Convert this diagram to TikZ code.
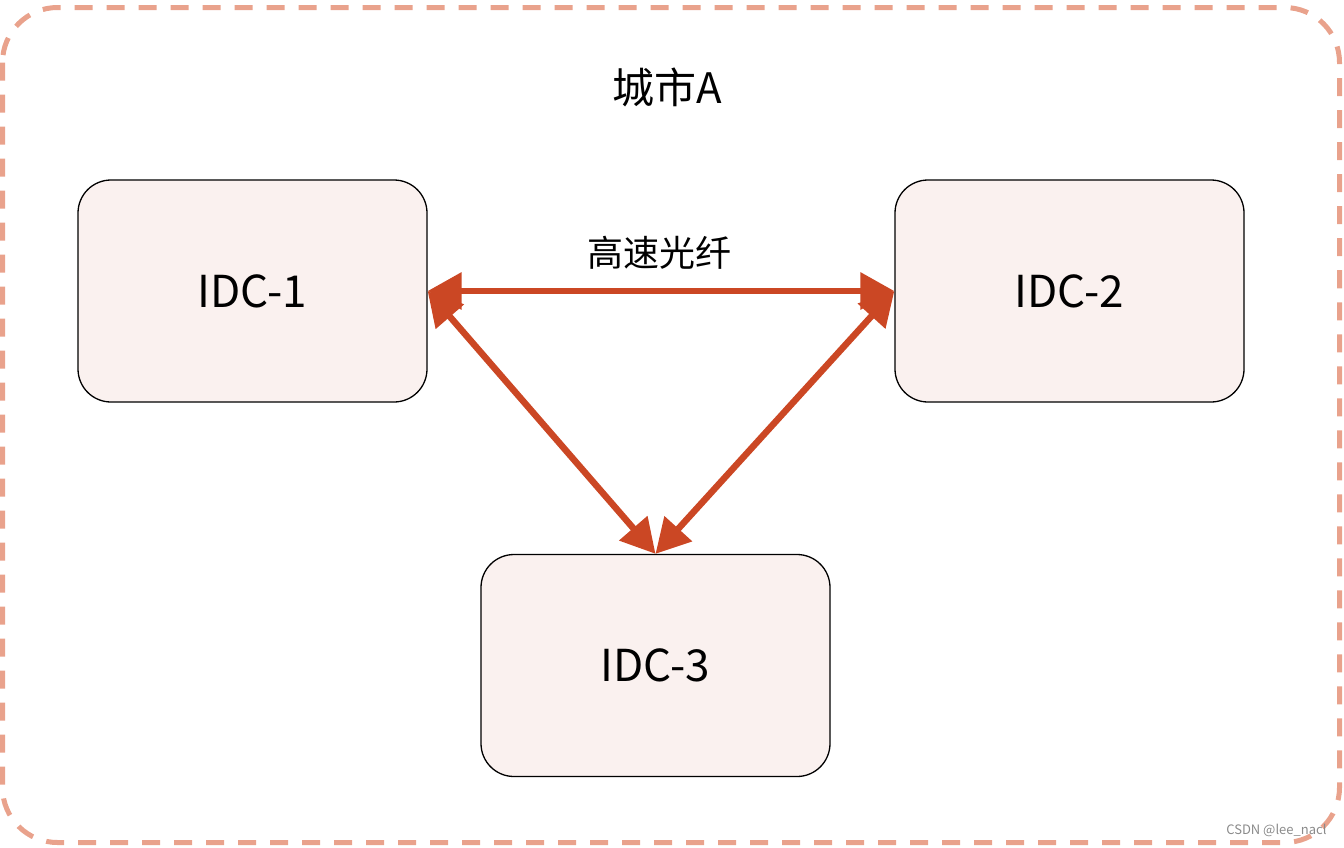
\documentclass[tikz,border=0pt]{standalone}
\usepackage{fontspec}
\setmainfont{Noto Sans CJK SC}
\usetikzlibrary{arrows.meta}
\definecolor{frame}{HTML}{E9A28C}
\definecolor{boxfill}{HTML}{FAF1EF}
\definecolor{link}{HTML}{CB4724}
\definecolor{wm}{HTML}{8A8A8A}
\tikzset{
  idcbox/.style={draw=black, line width=1.3pt, fill=boxfill, rounded corners=33pt,
    minimum width=349pt, minimum height=222pt, inner sep=0pt,
    font=\fontsize{44pt}{50pt}\selectfont},
  fiber/.style={draw=link, line width=6.5pt,
    {Triangle[length=34pt,width=36pt]}-{Triangle[length=34pt,width=36pt]}},
}
\begin{document}
\begin{tikzpicture}[x=1pt,y=-1pt]
\useasboundingbox (0,0) rectangle (1344,847);
\draw[frame, line width=5pt, dash pattern=on 18pt off 14pt, rounded corners=55pt]
  (2.5,7.5) rectangle (1339.5,842.5);
\node[font=\fontsize{42pt}{48pt}\selectfont] (title) at (667,87) {城市A};
\node[idcbox] (idc1) at (252.5,291) {IDC-1};
\node[idcbox] (idc2) at (1069.5,291) {IDC-2};
\node[idcbox] (idc3) at (655.5,665.5) {IDC-3};
\draw[fiber] (idc1.east) -- (idc2.west);
\draw[fiber] (idc1.east) -- (idc3.north);
\draw[fiber] (idc2.west) -- (idc3.north);
\node[font=\fontsize{36pt}{41pt}\selectfont] (lbl) at (659,253) {高速光纤};
\node[text=wm, font=\fontsize{13pt}{15pt}\selectfont, anchor=east] (wmk) at (1330,830) {CSDN @lee\_nacl};
\end{tikzpicture}
\end{document}
